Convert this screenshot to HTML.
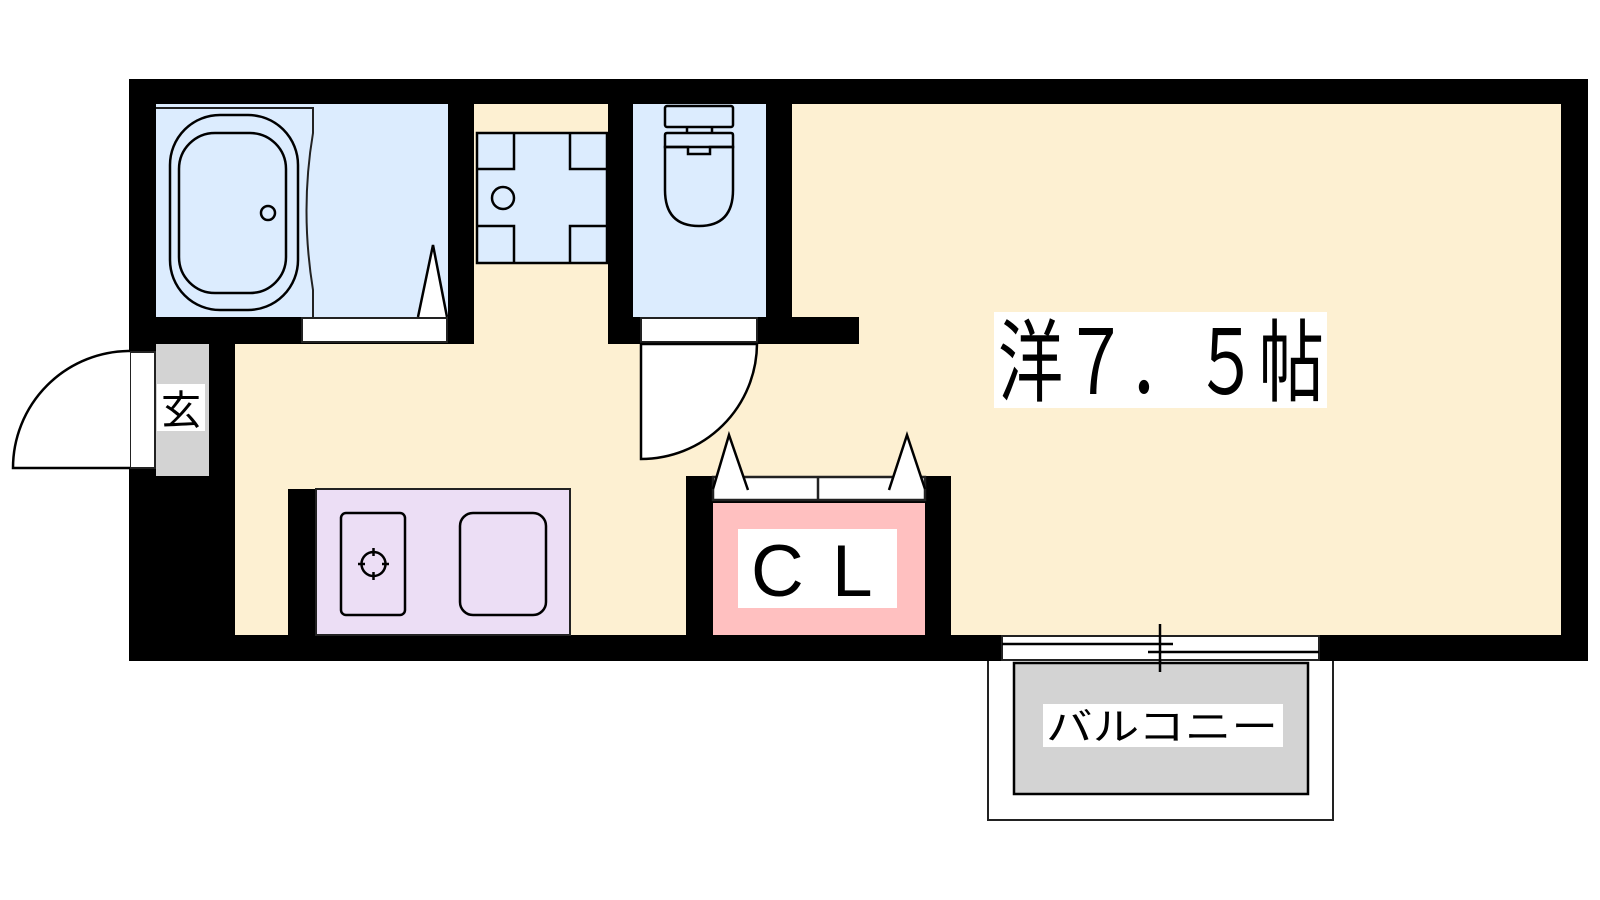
<!DOCTYPE html>
<html><head><meta charset="utf-8"><style>
html,body{margin:0;padding:0;background:#fff;width:1600px;height:900px;overflow:hidden}
svg{display:block}
text{font-family:"Liberation Sans","Noto Sans CJK JP",sans-serif}
</style></head><body>
<svg width="1600" height="900" viewBox="0 0 1600 900" xmlns="http://www.w3.org/2000/svg">
<!-- outer wall -->
<rect x="129" y="79" width="1459" height="582" fill="#000"/>
<!-- cream areas -->
<rect x="792" y="104" width="769" height="531" fill="#fdf0d2"/>
<rect x="235" y="344" width="1326" height="291" fill="#fdf0d2"/>
<rect x="474" y="104" width="134" height="240" fill="#fdf0d2"/>
<!-- wall stub right of toilet bottom -->
<rect x="608" y="317" width="251" height="27" fill="#000"/>
<!-- bath -->
<rect x="156" y="104" width="292" height="213" fill="#dcecfe"/>
<rect x="302" y="318" width="145" height="24" fill="#fff" stroke="#222" stroke-width="2"/>
<rect x="170" y="115" width="128" height="195" rx="50" fill="none" stroke="#000" stroke-width="2.5"/>
<rect x="179" y="133" width="107" height="160" rx="36" fill="none" stroke="#000" stroke-width="2.5"/>
<circle cx="268" cy="213" r="7" fill="none" stroke="#000" stroke-width="2.5"/>
<path d="M156 108 H313 V133 Q300 210 313 290 V317" fill="none" stroke="#222" stroke-width="2"/>
<path d="M418 317 L433 245 L447 317" fill="#fff" stroke="#000" stroke-width="2.5"/>
<!-- wash basin -->
<rect x="477" y="133" width="130" height="130" fill="#dcecfe" stroke="#000" stroke-width="2.5"/>
<path d="M477 169 H514 V133 M570 133 V169 H607 M477 226 H514 V263 M570 263 V226 H607" fill="none" stroke="#000" stroke-width="2.5"/>
<ellipse cx="503" cy="198" rx="11" ry="11" fill="none" stroke="#000" stroke-width="2.5"/>
<!-- toilet -->
<rect x="633" y="104" width="133" height="213" fill="#dcecfe"/>
<rect x="641" y="318" width="116" height="24" fill="#fff" stroke="#222" stroke-width="2"/>
<rect x="665" y="106" width="68" height="21" rx="2" fill="none" stroke="#000" stroke-width="2.5"/>
<path d="M687 127 V133 M712 127 V133" stroke="#000" stroke-width="2.5"/>
<path d="M665 147 V135 Q665 133 667 133 H731 Q733 133 733 135 V147 Z" fill="none" stroke="#000" stroke-width="2.5"/>
<path d="M665 147 H688 V154 H710 V147 H733 V190 Q733 226 699 226 Q665 226 665 190 Z" fill="none" stroke="#000" stroke-width="2.5"/>
<!-- toilet door -->
<path d="M641 344 V459 A116 116 0 0 0 757 344 Z" fill="#fff" stroke="#000" stroke-width="2.5"/>
<!-- entrance -->
<rect x="156" y="344" width="53" height="132" fill="#d3d3d3"/>
<rect x="130" y="352" width="25" height="116" fill="#fff" stroke="#222" stroke-width="2"/>
<path d="M130 468 H13 A117 117 0 0 1 130 351" fill="#fff" stroke="#000" stroke-width="2.5"/>
<rect x="157" y="384" width="48" height="47" fill="#fff"/>
<text x="181" y="424" font-size="40" text-anchor="middle">玄</text>
<!-- kitchen -->
<rect x="288" y="489" width="28" height="146" fill="#000"/>
<rect x="316" y="489" width="254" height="146" fill="#ecdef5" stroke="#222" stroke-width="2"/>
<rect x="341" y="513" width="64" height="102" rx="5" fill="none" stroke="#000" stroke-width="2.5"/>
<circle cx="373.5" cy="564" r="12" fill="none" stroke="#000" stroke-width="2.5"/>
<path d="M373.5 548 V556 M373.5 572 V580 M358 564 H365 M382 564 H389" stroke="#000" stroke-width="2.5"/>
<rect x="460" y="513" width="86" height="102" rx="13" fill="none" stroke="#000" stroke-width="2.5"/>
<!-- closet -->
<rect x="686" y="476" width="265" height="159" fill="#000"/>
<rect x="713" y="503" width="212" height="132" fill="#ffc0c0"/>
<rect x="713" y="477" width="212" height="23" fill="#fff" stroke="#222" stroke-width="2.5"/>
<line x1="818" y1="477" x2="818" y2="500" stroke="#222" stroke-width="2.5"/>
<path d="M713 489 L729 435 L748 490" fill="#fff" stroke="#000" stroke-width="2.5"/>
<path d="M889 490 L907 435 L925 489" fill="#fff" stroke="#000" stroke-width="2.5"/>
<rect x="738" y="529" width="159" height="79" fill="#fff"/>
<text x="751" y="596" font-size="73">C</text>
<text x="832" y="596" font-size="73">L</text>
<!-- main label -->
<rect x="994" y="312" width="333" height="96" fill="#fff"/>
<text x="998" y="394" font-size="90" textLength="326" lengthAdjust="spacingAndGlyphs">洋７．５帖</text>
<!-- window -->
<rect x="1002" y="636" width="317" height="24" fill="#fff" stroke="#222" stroke-width="2"/>
<line x1="1002" y1="644" x2="1173" y2="644" stroke="#000" stroke-width="2.5"/>
<line x1="1148" y1="652" x2="1319" y2="652" stroke="#000" stroke-width="2.5"/>
<line x1="1160" y1="624" x2="1160" y2="672" stroke="#000" stroke-width="2.5"/>
<!-- balcony -->
<path d="M988 661 V820 H1333 V661" fill="none" stroke="#222" stroke-width="2"/>
<rect x="1014" y="663" width="294" height="131" fill="#d3d3d3" stroke="#000" stroke-width="2.5"/>
<line x1="1160" y1="661" x2="1160" y2="672" stroke="#000" stroke-width="2.5"/>
<rect x="1043" y="704" width="240" height="43" fill="#fff"/>
<text x="1046" y="740" font-size="38" textLength="232" lengthAdjust="spacingAndGlyphs">バルコニー</text>
</svg>
</body></html>
